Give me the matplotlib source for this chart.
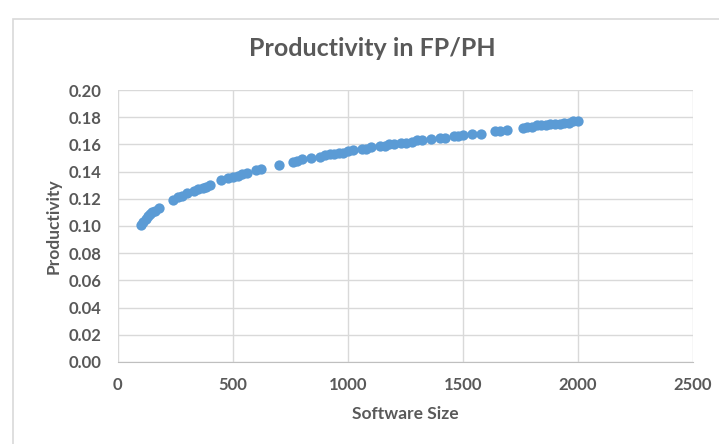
import matplotlib
matplotlib.use("Agg")
from matplotlib import pyplot as plt
from matplotlib.patches import Rectangle

# software size (FP) and productivity (FP/PH)
size = [100, 110, 120, 130, 140, 150, 160, 180,
        240, 260, 280, 300, 330, 350, 370, 385, 400,
        450, 480, 500, 520, 540, 560, 600, 620,
        700, 760, 780, 800, 840, 880, 900, 920, 940, 960, 980,
        1000, 1020, 1060, 1080, 1100, 1140, 1160, 1180, 1200,
        1230, 1250, 1280, 1300, 1320, 1360, 1400, 1420, 1460,
        1480, 1500, 1540, 1580, 1640, 1660, 1690, 1760, 1780,
        1800, 1820, 1840, 1860, 1880, 1900, 1920, 1940, 1960,
        1980, 2000]
productivity = [0.101, 0.103, 0.105, 0.107, 0.109, 0.110, 0.111, 0.113,
                0.119, 0.121, 0.122, 0.124, 0.126, 0.127, 0.128, 0.129, 0.130,
                0.134, 0.135, 0.136, 0.137, 0.138, 0.139, 0.141, 0.142,
                0.145, 0.147, 0.148, 0.149, 0.150, 0.151, 0.152, 0.153, 0.153,
                0.154, 0.154, 0.155, 0.156, 0.157, 0.157, 0.158, 0.159, 0.159,
                0.160, 0.160, 0.161, 0.161, 0.162, 0.163, 0.163, 0.164, 0.165,
                0.165, 0.166, 0.166, 0.167, 0.168, 0.168, 0.170, 0.170, 0.171,
                0.172, 0.173, 0.173, 0.174, 0.174, 0.174, 0.175, 0.175, 0.175,
                0.176, 0.176, 0.177, 0.177]

x_ticks = [0, 500, 1000, 1500, 2000, 2500]
y_ticks = [0.00, 0.02, 0.04, 0.06, 0.08, 0.10, 0.12, 0.14, 0.16, 0.18, 0.20]

text_color = '#595959'
grid_color = '#D9D9D9'
font = 'Lato'

fig = plt.figure(figsize=(7.19, 4.44), dpi=100)
ax = fig.add_axes([0.164, 0.185, 0.800, 0.612])

# chart border like Excel's chart area
fig.patches.append(Rectangle((13 / 719, -0.1), 1.2, (444 - 19) / 444 + 0.1,
                             transform=fig.transFigure, fill=False,
                             edgecolor=grid_color, linewidth=1.2))

ax.scatter(size, productivity, s=55, color='#5B9BD5', zorder=3, linewidths=0)

ax.set_xlim(0, 2500)
ax.set_ylim(0, 0.20)
ax.set_xticks(x_ticks)
ax.set_yticks(y_ticks)
ax.set_yticklabels([f'{v:.2f}' for v in y_ticks])

ax.grid(True, color=grid_color, linewidth=1)
ax.set_axisbelow(True)
for s in ['top', 'right', 'left']:
    ax.spines[s].set_visible(False)
ax.spines['bottom'].set_color('#BFBFBF')
ax.tick_params(axis='x', length=0, labelsize=12, labelcolor=text_color, pad=11)
ax.tick_params(axis='y', length=0, labelsize=12, labelcolor=text_color, pad=12)
for lab in ax.get_xticklabels() + ax.get_yticklabels():
    lab.set_fontfamily(font)
    lab.set_fontweight('bold')

fig.text(372 / 719, 1 - 48 / 444, 'Productivity in FP/PH', fontsize=18,
         fontweight='bold', color=text_color, family=font,
         ha='center', va='center')
ax.set_xlabel('Software Size', fontsize=12.5, fontweight='bold',
              color=text_color, family=font, labelpad=9)
ax.set_ylabel('Productivity', fontsize=12.5, fontweight='bold',
              color=text_color, family=font, labelpad=5)

plt.savefig('out.png', dpi=100)
